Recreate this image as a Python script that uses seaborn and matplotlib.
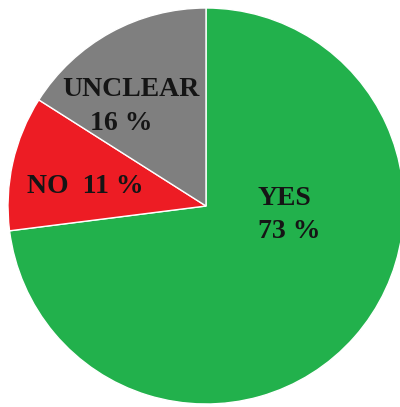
import matplotlib
matplotlib.use("Agg")
import matplotlib.pyplot as plt
import seaborn as sns

categories = ["YES", "NO", "UNCLEAR"]
values = [73, 11, 16]
label_lines = [["YES", "73 %"], ["NO  11 %"], ["UNCLEAR", "16 %"]]
colors = ["#22b14c", "#ed1c24", "#7f7f7f"]

sns.set_theme(style="white")
plt.rcParams['font.family'] = ['Liberation Serif', 'DejaVu Serif']

W, H = 400, 407
fig = plt.figure(figsize=(W / 100, H / 100), dpi=100)
ax = fig.add_axes([0, 0, 1, 1])
cx, cy, r = 206, 206, 198  # pixels, from top-left

wedges, _ = ax.pie(values, colors=colors, startangle=90, counterclock=False,
                   radius=1.0, center=(0, 0),
                   wedgeprops=dict(edgecolor="white", linewidth=1.0))

# layout: left edge / baseline of each text line in pixels (top-left origin)
line_px = [[(258, 205), (258, 238)], [(27, 193)], [(62, 96), (90, 130)]]
for lines, poss in zip(label_lines, line_px):
    for txt, (px, py) in zip(lines, poss):
        x = (px - cx) / r
        y = (cy - py) / r
        ax.text(x, y, txt, ha="left", va="baseline", fontsize=20,
                fontweight="bold", color="#151515")

ax.set_xlim(-cx / r, (W - cx) / r)
ax.set_ylim(-(H - cy) / r, cy / r)
ax.set_aspect("auto")
ax.axis("off")
fig.savefig("out.png", dpi=100, facecolor="white")
